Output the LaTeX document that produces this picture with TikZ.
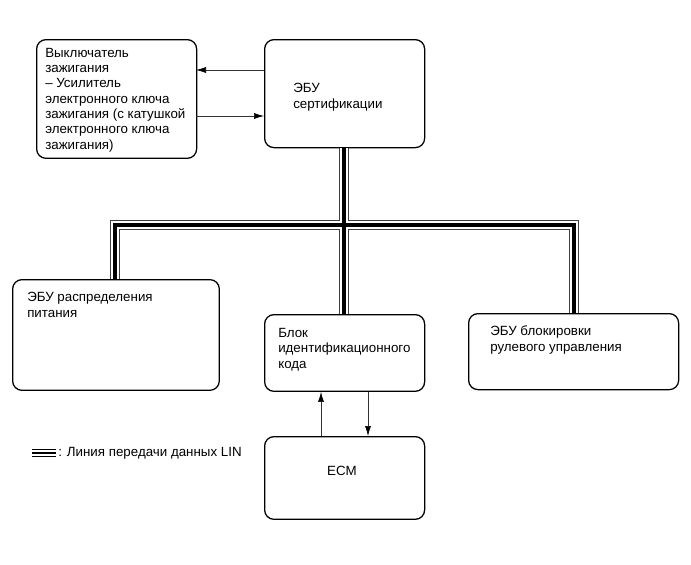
\documentclass[tikz,border=0pt]{standalone}
\usepackage{fontspec}
\setmainfont{Liberation Sans}
\usetikzlibrary{arrows.meta}
\begin{document}
\begin{tikzpicture}[x=0.75pt,y=-0.75pt,
  box/.style={draw=black, line width=0.95pt, rounded corners=7pt, rectangle, inner sep=0pt, anchor=north west},
  lbl/.style={anchor=base west, inner sep=0pt, align=left, font=\fontsize{10}{11.5}\selectfont},
  sig/.style={line width=0.5pt, black!80, -{Latex[length=7.5pt,width=4.5pt,black]}},
  busout/.style={line width=7.5pt, black!75},
  busmid/.style={line width=6pt, white},
  busin/.style={line width=3.2pt, black}]
\useasboundingbox (0,0) rectangle (691,564);
% boxes
\node[box, minimum width=120pt, minimum height=89pt] (ign) at (36,39) {};
\node[box, minimum width=120pt, minimum height=81pt] (cert) at (264,39) {};
\node[box, minimum width=155pt, minimum height=83pt] (pwr) at (12,279) {};
\node[box, minimum width=120pt, minimum height=57.5pt] (idc) at (264,314) {};
\node[box, minimum width=157.5pt, minimum height=57pt] (steer) at (468,313) {};
\node[box, minimum width=120pt, minimum height=62pt] (ecm) at (264,436) {};
% labels (base = last line)
\node[lbl] (tign) at (45,149) {Выключатель\\зажигания\\– Усилитель\\электронного ключа\\зажигания (с катушкой\\электронного ключа\\зажигания)};
\node[lbl] (tcert) at (293,108) {ЭБУ\\сертификации};
\node[lbl] (tpwr) at (27,317) {ЭБУ распределения\\питания};
\node[lbl] (tidc) at (278,368) {Блок\\идентификационного\\кода};
\node[lbl] (tsteer) at (490,351) {ЭБУ блокировки\\рулевого управления};
\node[lbl, anchor=base] (tecm) at (342,475) {ECM};
\node[lbl] (tleg) at (58,456) {: Линия передачи данных LIN};
% signal arrows
\coordinate (a1s) at (264,70); \coordinate (a1e) at (196,70);
\coordinate (a2s) at (196,116); \coordinate (a2e) at (264,116);
\draw[sig] (a1s) -- (a1e);
\draw[sig] (a2s) -- (a2e);
\draw[sig] (ecm.north -| 321,0) -- (idc.south -| 321,0);
\draw[sig] (idc.south -| 368,0) -- (ecm.north -| 368,0);
% LIN bus
\coordinate (j) at (344,225);
\foreach \st in {busout,busmid,busin}{
  \draw[\st, line join=miter] (pwr.north -| 115,0) -- (115,225) -- (574,225) -- (steer.north -| 574,0);
  \draw[\st] (cert.south -| j) -- (idc.north -| j);
}
% legend
\coordinate (l1) at (32,449.5); \coordinate (l2) at (56,449.5);
\coordinate (l3) at (32,453); \coordinate (l4) at (56,453);
\coordinate (l5) at (32,456.5); \coordinate (l6) at (56,456.5);
\draw[line width=0.8pt, black] (l1) -- (l2);
\draw[line width=2.2pt, black] (l3) -- (l4);
\draw[line width=0.8pt, black] (l5) -- (l6);
\end{tikzpicture}
\end{document}
